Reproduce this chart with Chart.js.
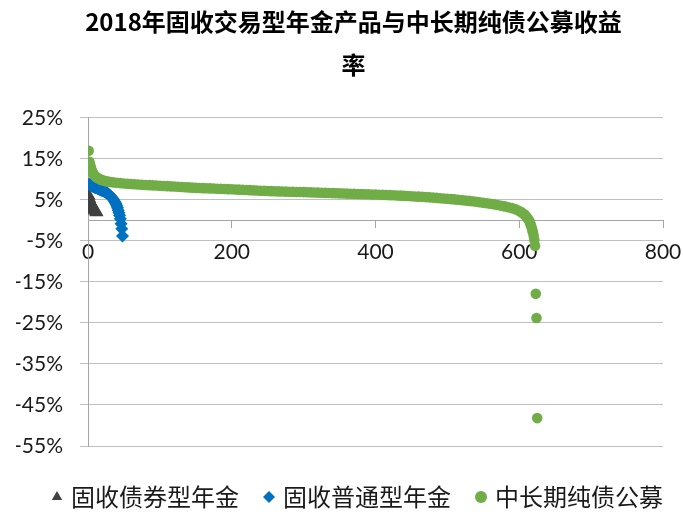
<!DOCTYPE html>
<html>
<head>
<meta charset="utf-8">
<script src="https://cdn.jsdelivr.net/npm/chart.js@4"></script>
<style>
  html, body { margin: 0; padding: 0; background: #fff; }
  #chart { display: block; }
</style>
</head>
<body>
<canvas id="chart" width="683" height="514"></canvas>
<script>
const titleLines = ['2018年固收交易型年金产品与中长期纯债公募收益', '率'];
const seriesNames = ['固收债券型年金', '固收普通型年金', '中长期纯债公募'];

// annuity products, ranked from best to worst return (%)
const bondAnnuityReturn = [6.0, 5.3, 4.7, 4.2, 3.8, 3.4, 3.1, 2.8, 2.6, 2.4, 2.2, 2.0];
const generalAnnuityReturn = [
  8.8, 8.75, 8.7, 8.6, 8.5, 8.4, 8.3, 8.2, 8.1, 8.05, 8.0, 7.95, 7.85, 7.75, 7.7, 7.6,
  7.5, 7.45, 7.35, 7.3, 7.25, 7.15, 7.05, 6.95, 6.85, 6.75, 6.6, 6.45, 6.3, 6.15, 6.0, 5.8,
  5.6, 5.4, 5.2, 4.9, 4.6, 4.3, 4.0, 3.6, 3.1, 2.5, 1.9, 1.2, 0.4, -0.8, -2.0, -3.8
];

// mid/long-term pure bond funds: rank and return (%)
const pureBondRank = [
  1, 2, 3, 4, 5, 6, 7, 8, 9, 10, 12, 14, 16, 18, 20, 23, 26, 30, 35, 40, 45, 50, 55, 60,
  65, 70, 75, 80, 85, 90, 95, 100, 105, 110, 115, 120, 125, 130, 135, 140, 145, 150, 155,
  160, 165, 170, 175, 180, 185, 190, 195, 200, 205, 210, 215, 220, 225, 230, 235, 240, 245,
  250, 255, 260, 265, 270, 275, 280, 285, 290, 295, 300, 305, 310, 315, 320, 325, 330, 335,
  340, 345, 350, 355, 360, 365, 370, 375, 380, 385, 390, 395, 400, 405, 410, 415, 420, 425,
  430, 435, 440, 445, 450, 455, 460, 465, 470, 475, 480, 485, 490, 495, 500, 505, 510, 515,
  520, 525, 530, 535, 540, 545, 550, 555, 560, 565, 570, 575, 580, 585, 590, 595, 600, 603,
  606, 608, 610, 612, 614, 615, 616, 617, 618, 619, 620, 621, 622, 623, 624, 625
];
const pureBondReturn = [
  17.0, 14.3, 13.6, 12.9, 12.3, 11.9, 11.5, 11.2, 11.0, 10.8, 10.5, 10.3, 10.1, 9.95, 9.8,
  9.65, 9.52, 9.4, 9.28, 9.18, 9.1, 9.02, 8.95, 8.88, 8.82, 8.76, 8.71, 8.66, 8.61, 8.56,
  8.51, 8.46, 8.41, 8.36, 8.31, 8.26, 8.21, 8.16, 8.11, 8.06, 8.0, 7.95, 7.92, 7.88, 7.85,
  7.81, 7.78, 7.74, 7.71, 7.67, 7.63, 7.59, 7.55, 7.51, 7.47, 7.43, 7.39, 7.34, 7.3, 7.25,
  7.21, 7.17, 7.14, 7.11, 7.08, 7.05, 7.03, 7.0, 6.98, 6.95, 6.93, 6.91, 6.88, 6.85, 6.82,
  6.79, 6.76, 6.73, 6.7, 6.67, 6.64, 6.61, 6.58, 6.55, 6.52, 6.49, 6.46, 6.43, 6.4, 6.37,
  6.34, 6.31, 6.28, 6.24, 6.21, 6.17, 6.13, 6.09, 6.05, 6.0, 5.95, 5.9, 5.85, 5.8, 5.75,
  5.69, 5.63, 5.57, 5.5, 5.43, 5.36, 5.29, 5.21, 5.13, 5.05, 4.96, 4.87, 4.77, 4.67, 4.56,
  4.45, 4.33, 4.2, 4.06, 3.92, 3.77, 3.6, 3.42, 3.22, 3.0, 2.7, 2.3, 2.0, 1.6, 1.3, 0.9,
  0.4, -0.1, -0.6, -1.1, -1.6, -2.2, -2.9, -3.7, -4.7, -6.2, -17.9, -23.8, -48.2
];

const xTicks = [0, 200, 400, 600, 800];
const yTicks = [-55, -45, -35, -25, -15, -5, 5, 15, 25];

const numFont = { family: 'Lato, "Liberation Sans", sans-serif', size: 21 };
const cjkFont = '"Noto Sans CJK SC", "Noto Sans", sans-serif';
const padLeft = 16;

const ranked = (values) => values.map((v, i) => ({ x: i + 1, y: v }));

new Chart(document.getElementById('chart'), {
  type: 'scatter',
  data: {
    datasets: [{
      label: seriesNames[0],
      data: ranked(bondAnnuityReturn),
      pointStyle: 'triangle',
      pointRadius: 8,
      backgroundColor: '#404040',
      borderColor: '#404040',
      borderWidth: 0,
      order: 2
    }, {
      label: seriesNames[1],
      data: ranked(generalAnnuityReturn),
      pointStyle: 'rectRot',
      pointRadius: 6.5,
      backgroundColor: '#0070C0',
      borderColor: '#0070C0',
      borderWidth: 0,
      order: 1
    }, {
      label: seriesNames[2],
      data: pureBondRank.map((r, i) => ({ x: r, y: pureBondReturn[i] })),
      pointStyle: 'circle',
      pointRadius: 5.3,
      backgroundColor: '#70AD47',
      borderColor: '#70AD47',
      borderWidth: 0,
      order: 0
    }]
  },
  options: {
    responsive: false,
    devicePixelRatio: 1,
    animation: false,
    layout: { padding: { left: padLeft, right: -8, top: 0, bottom: -5 } },
    plugins: {
      tooltip: { enabled: false },
      title: {
        display: true,
        text: titleLines,
        color: '#000',
        font: { family: cjkFont, size: 24, weight: 'bold', lineHeight: 1.79 },
        padding: { top: 0, bottom: 32 }
      },
      legend: {
        position: 'bottom',
        align: 'end',
        title: { display: true, text: ' ', padding: 0, font: { size: 10, lineHeight: 1.1 } },
        labels: {
          usePointStyle: true,
          boxWidth: 4,
          boxHeight: 8.5,
          padding: 28,
          color: '#1a1a1a',
          font: { family: cjkFont, size: 24 },
          sort: (a, b) => a.datasetIndex - b.datasetIndex
        }
      }
    },
    scales: {
      x: {
        type: 'linear',
        position: { y: 0 },
        min: 0,
        max: 800,
        afterBuildTicks: (s) => { s.ticks = xTicks.map((v) => ({ value: v })); },
        afterFit: (s) => { s.height = 0; s.paddingLeft = 0; s.paddingRight = 20; },
        grid: { drawOnChartArea: false, drawTicks: true, tickLength: 7, color: '#a6a6a6' },
        border: { color: '#a6a6a6', width: 1 },
        ticks: { font: numFont, color: '#1a1a1a', padding: 12, maxRotation: 0, autoSkip: false }
      },
      y: {
        min: -55,
        max: 25,
        afterBuildTicks: (s) => { s.ticks = yTicks.map((v) => ({ value: v })); },
        afterFit: (s) => { s.width = 88 - padLeft; },
        grid: { color: '#bfbfbf', drawTicks: true, tickLength: 8 },
        border: { color: '#a6a6a6', width: 1 },
        ticks: {
          font: numFont,
          color: '#1a1a1a',
          padding: 17,
          callback: (v) => v + '%'
        }
      }
    }
  }
});
</script>
</body>
</html>
